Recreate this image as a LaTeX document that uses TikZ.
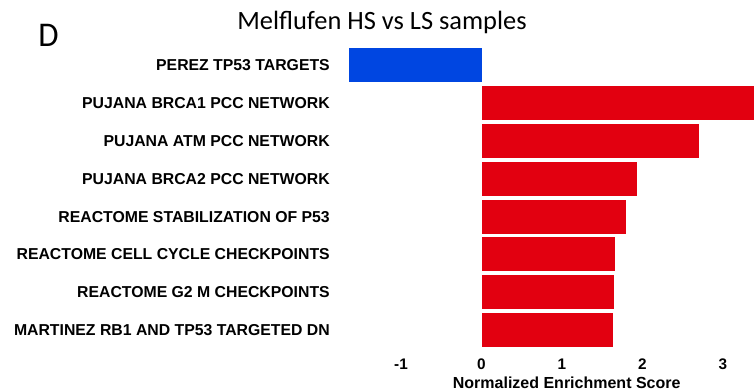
\documentclass[tikz,border=0pt]{standalone}
\usepackage{fontspec}
\usepackage{graphicx}
\setmainfont{Carlito}
\newfontfamily\setfont{Liberation Sans}
\definecolor{nesred}{RGB}{226,0,16}
\definecolor{nesblue}{RGB}{0,70,225}

\begin{document}
\begin{tikzpicture}[x=0.75pt,y=-0.75pt]
\tikzset{setname/.style={anchor=east,inner sep=0pt,font=\setfont\bfseries\fontsize{11.85}{12}\selectfont},
         axislabel/.style={anchor=base,inner sep=0pt,font=\setfont\bfseries\fontsize{11.5}{12}\selectfont}}
\useasboundingbox (0,0) rectangle (754,392);
\node[anchor=base west,inner sep=0pt] (panel) at (38,46.7) {\fontsize{26}{27}\selectfont\scalebox{0.95}[1]{D}};
\node[anchor=base,inner sep=0pt] (title) at (382,29.3) {\fontsize{19.8}{20}\selectfont Melflufen HS vs LS samples};
% gene sets, one bar each (NES, zero at x=481.5)
\foreach \nes/\col/\set [count=\i from 0] in {-1.64/nesblue/PEREZ TP53 TARGETS,
    3.38/nesred/PUJANA BRCA1 PCC NETWORK,
    2.70/nesred/PUJANA ATM PCC NETWORK,
    1.93/nesred/PUJANA BRCA2 PCC NETWORK,
    1.80/nesred/REACTOME STABILIZATION OF P53,
    1.66/nesred/REACTOME CELL CYCLE CHECKPOINTS,
    1.65/nesred/REACTOME G2 M CHECKPOINTS,
    1.63/nesred/MARTINEZ RB1 AND TP53 TARGETED DN}{
  \pgfmathsetmacro{\yc}{65.5+37.8*\i}
  \node[setname] (set\i) at (330,\yc) {\set};
  \fill[\col] (481.5,{\yc-17}) rectangle ({481.5+80.5*(\nes)},{\yc+17});
}
\foreach \k in {-1,0,1,2,3}
  \node[axislabel] (tick\k) at ({481.5+80.5*\k},369.5) {\k};
\node[axislabel,font=\setfont\bfseries\fontsize{12}{12}\selectfont] (xtitle) at (566.7,388) {Normalized Enrichment Score};
\end{tikzpicture}
\end{document}
